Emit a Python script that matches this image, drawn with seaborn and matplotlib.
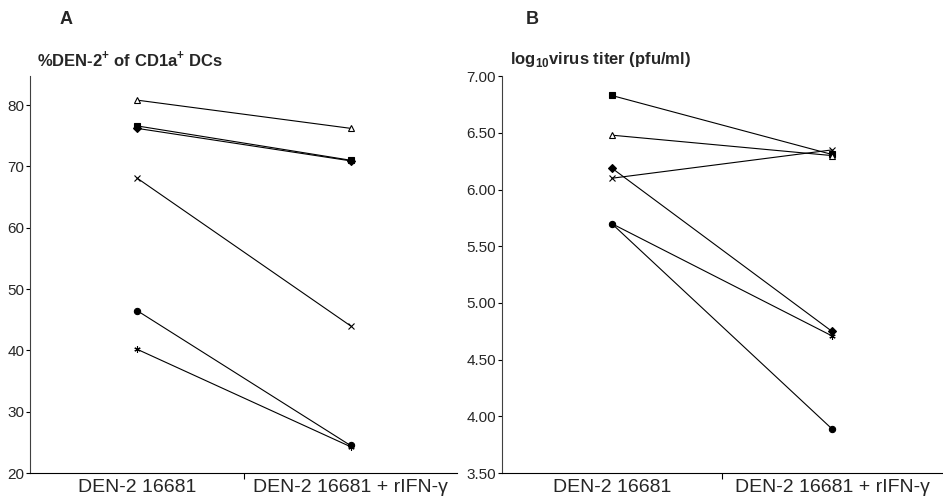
import numpy as np
import pandas as pd
import matplotlib
matplotlib.use("Agg")
import matplotlib.pyplot as plt
import seaborn as sns

# conditions on the x axis
conditions = ["DEN-2 16681", "DEN-2 16681 + rIFN-\u03b3"]

# one marker per donor, same order in both panels
donors = ["d1", "d2", "d3", "d4", "d5", "d6"]

# panel A: %DEN-2+ of CD1a+ DCs
pct_before = [80.8, 76.6, 76.2, 68.1, 46.5, 40.2]
pct_after = [76.2, 71.0, 70.9, 44.0, 24.5, 24.3]

# panel B: log10 virus titer (pfu/ml)
titer_before = [6.83, 6.48, 6.19, 6.10, 5.70, 5.70]
titer_after = [6.31, 6.30, 4.75, 6.35, 3.89, 4.71]

# marker styles per donor for each panel
markers_a = ["^", "s", "D", "x", "o", (6, 2, 0)]
facecol_a = ["white", "black", "black", "black", "black", "black"]
markers_b = ["s", "^", "D", "x", "o", (6, 2, 0)]
facecol_b = ["black", "white", "black", "black", "black", "black"]

sns.set_style("white")
plt.rcParams["font.family"] = ["Liberation Sans", "DejaVu Sans"]
plt.rcParams["mathtext.fontset"] = "custom"
plt.rcParams["mathtext.rm"] = "Liberation Sans"
plt.rcParams["mathtext.bf"] = "Liberation Sans:bold"


def long_table(before, after):
    rows = []
    for i, d in enumerate(donors):
        rows.append({"donor": d, "x": 0, "value": before[i]})
        rows.append({"donor": d, "x": 1, "value": after[i]})
    return pd.DataFrame(rows)


def draw_panel(fig, ax, df, markers, facecols, ylim, yticks, fmt, title,
               letter, title_x, letter_x):
    for d, m, fc in zip(donors, markers, facecols):
        sub = df[df["donor"] == d]
        sns.lineplot(data=sub, x="x", y="value", ax=ax, color="black",
                     linewidth=0.8, marker=m, markersize=4.5,
                     markerfacecolor=fc, markeredgecolor="black",
                     markeredgewidth=0.8, legend=False)
    ax.set_xlim(-0.5, 1.5)
    ax.set_ylim(*ylim)
    ax.set_yticks(yticks)
    ax.set_yticklabels([fmt.format(v) for v in yticks], fontsize=11)
    ax.set_xticks([0, 1])
    ax.set_xticklabels(conditions, fontsize=14)
    ax.set_xticks([0.5], minor=True)
    ax.tick_params(axis="x", which="major", length=0, pad=4)
    ax.tick_params(axis="x", which="minor", length=4, width=0.8,
                   direction="out", bottom=True, color="black")
    ax.tick_params(axis="y", length=3, width=0.8, direction="out",
                   left=True, color="black", pad=1)
    ax.set_xlabel("")
    ax.set_ylabel("")
    sns.despine(ax=ax)
    ax.spines["left"].set_color("0.25")
    ax.spines["left"].set_linewidth(0.8)
    ax.spines["bottom"].set_color("black")
    ax.spines["bottom"].set_linewidth(0.8)
    fig.text(title_x, 0.862, title, fontsize=12, fontweight="bold",
             ha="left", va="bottom")
    fig.text(letter_x, 0.944, letter, fontsize=13, fontweight="bold",
             ha="left", va="bottom")


fig = plt.figure(figsize=(9.43, 4.98), dpi=100)
ax_a = fig.add_axes([0.032, 0.050, 0.453, 0.797])
ax_b = fig.add_axes([0.532, 0.050, 0.467, 0.797])

draw_panel(fig, ax_a, long_table(pct_before, pct_after), markers_a, facecol_a,
           (20, 84.7), [20, 30, 40, 50, 60, 70, 80], "{:.0f}",
           r"%DEN-2$^{\mathbf{+}}$ of CD1a$^{\mathbf{+}}$ DCs", "A",
           0.039, 0.063)
draw_panel(fig, ax_b, long_table(titer_before, titer_after), markers_b, facecol_b,
           (3.5, 7.0), [3.5, 4.0, 4.5, 5.0, 5.5, 6.0, 6.5, 7.0], "{:.2f}",
           r"log$_{\mathbf{10}}$virus titer (pfu/ml)", "B",
           0.541, 0.558)

fig.savefig("out.png", dpi=100)
